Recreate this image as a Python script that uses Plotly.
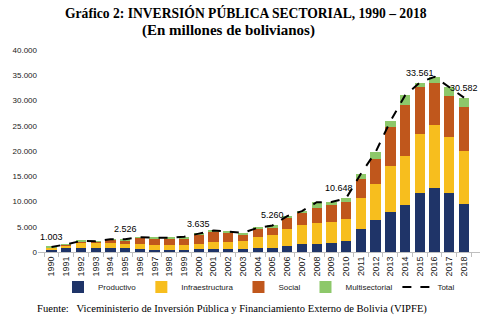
import plotly.graph_objects as go

years = [str(y) for y in range(1990, 2019)]
productivo = [400, 800, 850, 800, 800, 700, 500, 350, 300, 300, 500, 500, 500, 500, 700, 800,
              1150, 1500, 1600, 1700, 2100, 4500, 6300, 7900, 9300, 11600, 12700, 11700, 9600]
infraestructura = [400, 500, 1050, 1000, 900, 800, 1000, 950, 1000, 1000, 1000, 1400, 1500, 1700,
                   2200, 2500, 3450, 3900, 4200, 4300, 4500, 6100, 7200, 9200, 9800, 11700, 12500,
                   11100, 10500]
social = [150, 150, 200, 250, 700, 700, 1300, 1300, 1300, 1300, 1900, 2100, 1900, 1300, 1700, 1600,
          2200, 2300, 2900, 3400, 3250, 3900, 4900, 7600, 10000, 9300, 8200, 8100, 8700]
multisectorial = [53, 60, 100, 80, 130, 326, 150, 200, 200, 400, 235, 250, 150, 300, 200, 360,
                  300, 400, 1150, 500, 798, 1000, 1400, 1200, 1900, 961, 1300, 1700, 1782]
total = [1003, 1510, 2200, 2130, 2530, 2526, 2950, 2800, 2800, 3000, 3635, 4250, 4050, 3800, 4800,
         5260, 7100, 8100, 9850, 9900, 10648, 15500, 19800, 25900, 31000, 33561, 34700, 32600, 30582]
label_years = ["1990", "1995", "2000", "2005", "2010", "2015", "2018"]

colors = {"Productivo": "#1F3468", "Infraestructura": "#F7BE1E",
          "Social": "#C0571C", "Multisectorial": "#8DC86A"}

fig = go.Figure()
for name, vals in [("Productivo", productivo), ("Infraestructura", infraestructura),
                   ("Social", social), ("Multisectorial", multisectorial)]:
    fig.add_trace(go.Bar(x=years, y=vals, name=name, marker_color=colors[name],
                         marker_line_width=0))
fig.add_trace(go.Scatter(x=years, y=total, name="Total", mode="lines",
                         line=dict(color="black", width=2, dash="dash")))

def fmt(v):
    return f"{v:,}".replace(",", ".")

xshifts = {"2010": -7}
for y in label_years:
    i = years.index(y)
    fig.add_annotation(x=i, y=total[i], text=fmt(total[i]), showarrow=False,
                       yshift=10, xshift=xshifts.get(y, 0),
                       font=dict(family="Liberation Sans", size=9, color="black"))

def px_x(px):
    return (px - 38) / 442

def px_y(py):
    return (252 - py) / 202

fig.add_annotation(xref="paper", yref="paper", x=px_x(246), y=px_y(13), yanchor="middle",
                   text="<b>Gráfico 2: INVERSIÓN PÚBLICA SECTORIAL, 1990 – 2018</b>",
                   showarrow=False, font=dict(family="Liberation Serif", size=13.6, color="black"))
fig.add_annotation(xref="paper", yref="paper", x=px_x(228), y=px_y(31), yanchor="middle",
                   text="<b>(En millones de bolivianos)</b>",
                   showarrow=False, font=dict(family="Liberation Serif", size=15, color="black"))
fig.add_annotation(xref="paper", yref="paper", x=px_x(35), y=px_y(309), xanchor="left",
                   yanchor="middle",
                   text="Fuente:   Viceministerio de Inversión Pública y Financiamiento Externo de Bolivia (VIPFE)",
                   showarrow=False, font=dict(family="Liberation Serif", size=10.6, color="black"))

fig.update_layout(
    width=502, height=325,
    margin=dict(l=38, r=22, t=50, b=73),
    paper_bgcolor="white", plot_bgcolor="white",
    barmode="stack", bargap=0.3,
    separators=",.",
    showlegend=True,
    legend=dict(orientation="h", x=0.5, xanchor="center", y=px_y(287), yanchor="middle",
                traceorder="normal",
                font=dict(family="Liberation Sans", size=8, color="#222"),
                bgcolor="rgba(0,0,0,0)"),
    font=dict(family="Liberation Sans", size=8, color="#222"),
)
fig.update_yaxes(range=[0, 40000], dtick=5000, tickformat=",d", showgrid=False,
                 zeroline=False, showline=False, ticks="",
                 tickfont=dict(family="Liberation Sans", size=8, color="#222"))
fig.update_xaxes(type="category", tickangle=-90, showline=True, linecolor="#BFBFBF",
                 ticks="outside", tickson="boundaries", ticklen=4, tickcolor="#BFBFBF",
                 showgrid=False, tickfont=dict(family="Liberation Sans", size=9, color="#222"))

fig.write_html("out.html")
